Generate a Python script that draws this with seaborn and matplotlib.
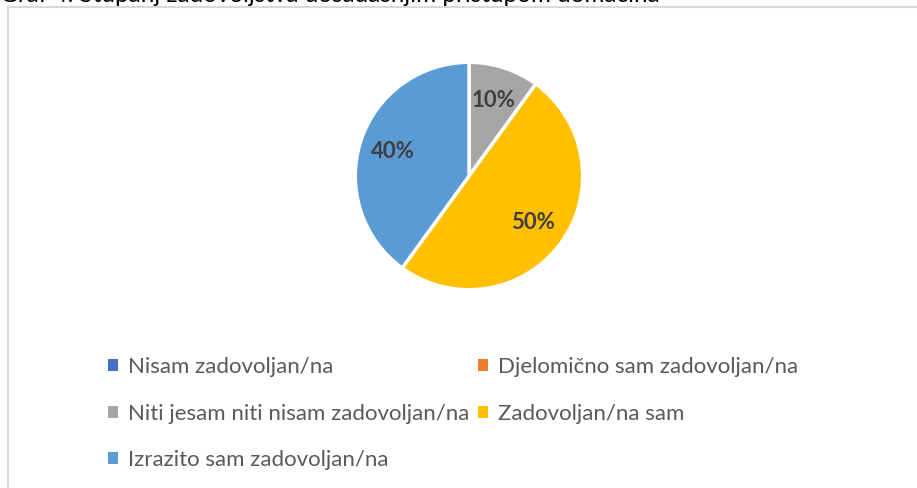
import matplotlib
matplotlib.use('Agg')
import matplotlib.pyplot as plt
import seaborn as sns
from matplotlib.patches import Patch, Rectangle

# data
categories = ['Nisam zadovoljan/na', 'Djelomično sam zadovoljan/na',
              'Niti jesam niti nisam zadovoljan/na', 'Zadovoljan/na sam',
              'Izrazito sam zadovoljan/na']
shares = [0, 0, 10, 50, 40]
colors = ['#4472C4', '#ED7D31', '#A5A5A5', '#FFC000', '#5B9BD5']
title = 'Graf 4. Stupanj zadovoljstva dosadašnjim pristupom domaćina'

sns.set_style('white')
plt.rcParams['font.family'] = ['Lato', 'DejaVu Sans']

W, H = 917, 488
fig = plt.figure(figsize=(W / 100, H / 100), dpi=100)

# chart frame (runs off the right and bottom edges)
fig.patches.append(Rectangle((8 / W, -0.1), 1.2, 1 - 7 / H + 0.1,
                             transform=fig.transFigure, fill=False,
                             edgecolor='#D9D9D9', lw=1.5))

# title, cut off by the top of the picture
fig.text(0, 1 - 2 / H, title, ha='left', va='baseline', fontsize=17.5, color='#000000')

# pie
cx, cy, r = 469, 176, 116
ax = fig.add_axes([(cx - r) / W, (H - cy - r) / H, 2 * r / W, 2 * r / H])
wedges, texts, autotexts = ax.pie(
    shares, colors=colors, startangle=90, counterclock=False,
    autopct=lambda p: f'{p:.0f}%' if p > 0 else '', pctdistance=0.7,
    wedgeprops=dict(edgecolor='white', linewidth=2.5),
    textprops=dict(fontsize=16, fontweight='bold', color='#404040'))
ax.set_xlim(-1.02, 1.02)
ax.set_ylim(-1.02, 1.02)
ax.set_aspect('equal')
ax.axis('off')

# legend, row-major order over two columns
handles = [Patch(facecolor=c, edgecolor='none') for c in colors]
order = [0, 2, 4, 1, 3]
fig.legend([handles[i] for i in order], [categories[i] for i in order],
           ncol=2, loc='upper left', bbox_to_anchor=(88 / W, 1 - 337 / H),
           frameon=False, fontsize=16, labelcolor='#595959',
           handlelength=0.45, handleheight=0.45, handletextpad=0.45,
           columnspacing=0.4, labelspacing=1.2)

fig.savefig('out.png', dpi=100)
